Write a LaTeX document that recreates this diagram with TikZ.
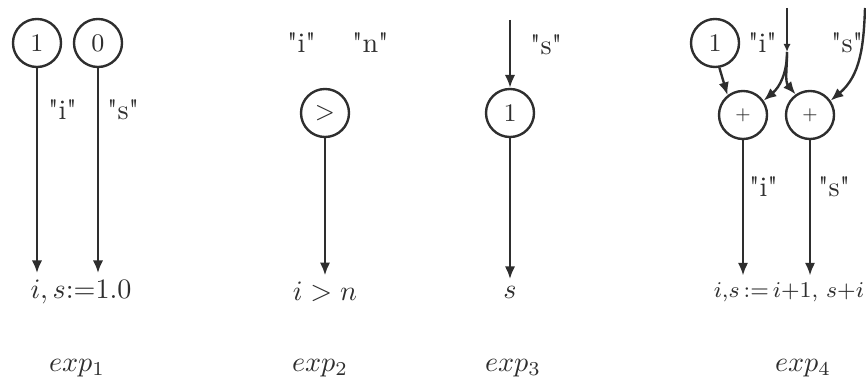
\documentclass[tikz,border=0pt]{standalone}
\usetikzlibrary{arrows.meta, positioning}
\definecolor{cink}{HTML}{2E2E2E}
\newcommand\qt[1]{\textquotedbl#1\textquotedbl}
\tikzset{
  every picture/.style={line width=0.85pt, color=cink},
  op/.style={circle, draw=cink, minimum size=0.6cm, inner sep=0pt, font=\small},
  flow/.style={-{Latex[length=1.6mm, width=1.3mm]}},
  tick/.style={-{Latex[length=1mm, width=0.9mm]}},
  lbl/.style={inner sep=1pt, anchor=west},
  res/.style={inner sep=2pt},
  expname/.style={inner sep=1pt},
}

\begin{document}
\begin{tikzpicture}[x=0.0125cm, y=-0.0125cm]
  \useasboundingbox (0,0) rectangle (866,381);
  % exp 1
  \node[op] (oneA) at (37,43) {1};
  \node[op] (zeroA) at (98,43) {0};
  \node[res] (resA) at (81,292) {$i,s{:=}1.0$};
  \draw[flow] (oneA) -- (oneA |- resA.north);
  \draw[flow] (zeroA) -- (zeroA |- resA.north);
  \node[lbl] (iA) at (44,110) {\qt{i}};
  \node[lbl] (sA) at (103,110) {\qt{s}};
  \node[expname] (expA) at (77,368) {$exp_1$};
  % exp 2
  \node[lbl] (iB) at (283,43) {\qt{i}};
  \node[lbl] (nB) at (348,43) {\qt{n}};
  \node[op] (gtB) at (325,113) {$>$};
  \node[res] (resB) at (325,292) {$i > n$};
  \draw[flow] (gtB) -- (gtB |- resB.north);
  \node[expname] (expB) at (320,368) {$exp_2$};
  % exp 3
  \coordinate (topC) at (510,20);
  \node[op] (idC) at (510,113) {1};
  \node[lbl] (sC) at (526,45) {\qt{s}};
  \node[res] (resC) at (510,292) {$s$};
  \draw[flow] (topC) -- (idC);
  \draw[flow] (idC) -- (idC |- resC.north);
  \node[expname] (expC) at (513,368) {$exp_3$};
  % exp 4
  \node[op] (oneD) at (715,43) {1};
  \node[lbl] (iD) at (744,43) {\qt{i}};
  \node[lbl] (sD) at (827,43) {\qt{s}};
  \coordinate (topI) at (787,8);
  \coordinate (split) at (787,52);
  \coordinate (topS) at (865,8);
  \node[op] (plusI) at (743,115) {$\scriptstyle+$};
  \node[op] (plusS) at (810,115) {$\scriptstyle+$};
  \draw[tick] (topI) -- (split);
  \draw[flow] (split) to[out=-90, in=40] (plusI.35);
  \draw[flow] (split) to[out=-90, in=130] (plusS.125);
  \draw[flow] (topS) to[out=-92, in=40] (plusS.35);
  \draw[flow] (oneD.-80) -- (plusI.128);
  \node[res, anchor=west, font=\footnotesize] (resD) at (707,292) {$i{,}s\,{:=}\,i{+}1,\,s{+}i$};
  \draw[flow] (plusI) -- (plusI |- resD.north);
  \draw[flow] (plusS) -- (plusS |- resD.north);
  \node[lbl] (iD2) at (745,187) {\qt{i}};
  \node[lbl] (sD2) at (814,187) {\qt{s}};
  \node[expname] (expD) at (803,368) {$exp_4$};
\end{tikzpicture}
\end{document}
